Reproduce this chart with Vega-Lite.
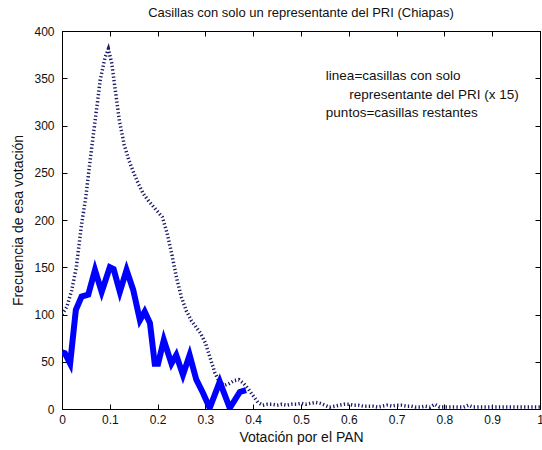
{
  "$schema": "https://vega.github.io/schema/vega-lite/v6.json",
  "width": 478,
  "height": 378,
  "autosize": "none",
  "padding": {"left": 62, "top": 31, "right": 2, "bottom": 41},
  "background": "white",
  "title": {"text": "Casillas con solo un representante del PRI (Chiapas)", "font": "Liberation Sans", "fontSize": 13, "fontWeight": "normal", "color": "#111111", "offset": 5},
  "config": {
    "view": {"stroke": "black", "strokeWidth": 1},
    "axis": {"grid": false, "labelFont": "Liberation Sans", "titleFont": "Liberation Sans", "labelFontSize": 12, "titleFontSize": 14, "titleFontWeight": "normal", "labelColor": "#111111", "titleColor": "#111111", "domainColor": "black", "tickColor": "black", "tickSize": -5, "tickWidth": 1, "labelFlush": false, "labelOverlap": false}
  },
  "datasets": {
    "resto": [
      {"x": 0.0, "y": 100}, {"x": 0.01, "y": 108}, {"x": 0.02, "y": 125}, {"x": 0.03, "y": 150},
      {"x": 0.04, "y": 192}, {"x": 0.05, "y": 225}, {"x": 0.06, "y": 268}, {"x": 0.07, "y": 308},
      {"x": 0.08, "y": 348}, {"x": 0.09, "y": 372}, {"x": 0.097, "y": 381}, {"x": 0.104, "y": 366},
      {"x": 0.11, "y": 343}, {"x": 0.12, "y": 305}, {"x": 0.13, "y": 280}, {"x": 0.14, "y": 263},
      {"x": 0.15, "y": 250}, {"x": 0.16, "y": 238}, {"x": 0.17, "y": 228}, {"x": 0.18, "y": 221},
      {"x": 0.19, "y": 215}, {"x": 0.2, "y": 209}, {"x": 0.21, "y": 203}, {"x": 0.22, "y": 186},
      {"x": 0.23, "y": 163}, {"x": 0.24, "y": 138}, {"x": 0.25, "y": 118}, {"x": 0.26, "y": 104},
      {"x": 0.27, "y": 94}, {"x": 0.28, "y": 87}, {"x": 0.29, "y": 80}, {"x": 0.3, "y": 70},
      {"x": 0.31, "y": 54}, {"x": 0.32, "y": 38}, {"x": 0.33, "y": 28}, {"x": 0.34, "y": 25},
      {"x": 0.35, "y": 27}, {"x": 0.36, "y": 30}, {"x": 0.37, "y": 31}, {"x": 0.38, "y": 27},
      {"x": 0.39, "y": 21}, {"x": 0.4, "y": 14}, {"x": 0.41, "y": 7}, {"x": 0.42, "y": 4},
      {"x": 0.43, "y": 5}, {"x": 0.44, "y": 5}, {"x": 0.45, "y": 4}, {"x": 0.46, "y": 5},
      {"x": 0.47, "y": 4}, {"x": 0.48, "y": 5}, {"x": 0.49, "y": 5}, {"x": 0.5, "y": 6},
      {"x": 0.51, "y": 5}, {"x": 0.52, "y": 6}, {"x": 0.53, "y": 7}, {"x": 0.54, "y": 6},
      {"x": 0.55, "y": 4}, {"x": 0.56, "y": 2}, {"x": 0.57, "y": 3}, {"x": 0.58, "y": 4},
      {"x": 0.59, "y": 5}, {"x": 0.6, "y": 5}, {"x": 0.61, "y": 4}, {"x": 0.62, "y": 4},
      {"x": 0.63, "y": 3}, {"x": 0.64, "y": 3}, {"x": 0.65, "y": 3}, {"x": 0.66, "y": 2},
      {"x": 0.67, "y": 3}, {"x": 0.68, "y": 4}, {"x": 0.69, "y": 3}, {"x": 0.7, "y": 4},
      {"x": 0.71, "y": 4}, {"x": 0.72, "y": 3}, {"x": 0.73, "y": 3}, {"x": 0.74, "y": 2},
      {"x": 0.75, "y": 2}, {"x": 0.76, "y": 3}, {"x": 0.77, "y": 2}, {"x": 0.78, "y": 5},
      {"x": 0.79, "y": 2}, {"x": 0.8, "y": 2}, {"x": 0.81, "y": 2}, {"x": 0.82, "y": 2},
      {"x": 0.83, "y": 2}, {"x": 0.84, "y": 2}, {"x": 0.85, "y": 4}, {"x": 0.86, "y": 2},
      {"x": 0.87, "y": 2}, {"x": 0.88, "y": 2}, {"x": 0.89, "y": 2}, {"x": 0.9, "y": 2},
      {"x": 0.91, "y": 2}, {"x": 0.92, "y": 2}, {"x": 0.93, "y": 2}, {"x": 0.94, "y": 2},
      {"x": 0.95, "y": 2}, {"x": 0.96, "y": 2}, {"x": 0.97, "y": 2}, {"x": 0.98, "y": 2},
      {"x": 0.99, "y": 2}, {"x": 1.0, "y": 2}
    ],
    "uno": [
      {"x": 0.0, "y": 60}, {"x": 0.006, "y": 59}, {"x": 0.017, "y": 48}, {"x": 0.029, "y": 105},
      {"x": 0.041, "y": 119}, {"x": 0.055, "y": 121}, {"x": 0.069, "y": 147}, {"x": 0.083, "y": 124},
      {"x": 0.1, "y": 150}, {"x": 0.108, "y": 148}, {"x": 0.121, "y": 124}, {"x": 0.135, "y": 147},
      {"x": 0.149, "y": 126}, {"x": 0.163, "y": 94}, {"x": 0.173, "y": 103}, {"x": 0.184, "y": 91},
      {"x": 0.194, "y": 48}, {"x": 0.201, "y": 48}, {"x": 0.213, "y": 73}, {"x": 0.229, "y": 48},
      {"x": 0.239, "y": 57}, {"x": 0.253, "y": 36}, {"x": 0.267, "y": 57}, {"x": 0.281, "y": 31},
      {"x": 0.295, "y": 17}, {"x": 0.309, "y": 1}, {"x": 0.33, "y": 29}, {"x": 0.351, "y": 1},
      {"x": 0.372, "y": 18}, {"x": 0.385, "y": 20}
    ],
    "notas": [
      {"x": 0.552, "y": 352, "t": "linea=casillas con solo"},
      {"x": 0.601, "y": 332, "t": "representante del PRI (x 15)"},
      {"x": 0.552, "y": 313, "t": "puntos=casillas restantes"}
    ]
  },
  "layer": [
    {
      "data": {"name": "resto"},
      "mark": {"type": "line", "color": "#1a1a66", "strokeWidth": 3.5, "strokeDash": [1.3, 2.3], "strokeCap": "butt", "clip": true},
      "encoding": {
        "x": {"field": "x", "type": "quantitative", "scale": {"domain": [0, 1], "nice": false},
              "axis": {"orient": "bottom", "values": [0, 0.1, 0.2, 0.3, 0.4, 0.5, 0.6, 0.7, 0.8, 0.9, 1], "format": "~g", "title": "Votación por el PAN", "labelPadding": 10, "titlePadding": 5}},
        "y": {"field": "y", "type": "quantitative", "scale": {"domain": [0, 400], "nice": false},
              "axis": {"orient": "left", "values": [0, 50, 100, 150, 200, 250, 300, 350, 400], "title": "Frecuencia de esa votación", "labelPadding": 13, "titlePadding": 8}}
      }
    },
    {
      "data": {"name": "uno"},
      "mark": {"type": "line", "color": "#0000ff", "strokeWidth": 6, "clip": true},
      "encoding": {
        "x": {"field": "x", "type": "quantitative", "scale": {"domain": [0, 1], "nice": false},
              "axis": {"orient": "top", "values": [0, 0.1, 0.2, 0.3, 0.4, 0.5, 0.6, 0.7, 0.8, 0.9, 1], "labels": false, "title": null}},
        "y": {"field": "y", "type": "quantitative", "scale": {"domain": [0, 400], "nice": false},
              "axis": {"orient": "right", "values": [0, 50, 100, 150, 200, 250, 300, 350, 400], "labels": false, "title": null}}
      }
    },
    {
      "data": {"name": "notas"},
      "mark": {"type": "text", "align": "left", "baseline": "middle", "font": "Liberation Sans", "fontSize": 13.5, "color": "#111111"},
      "encoding": {
        "x": {"field": "x", "type": "quantitative", "axis": null},
        "y": {"field": "y", "type": "quantitative", "axis": null},
        "text": {"field": "t"}
      }
    }
  ],
  "resolve": {"axis": {"x": "independent", "y": "independent"}}
}
